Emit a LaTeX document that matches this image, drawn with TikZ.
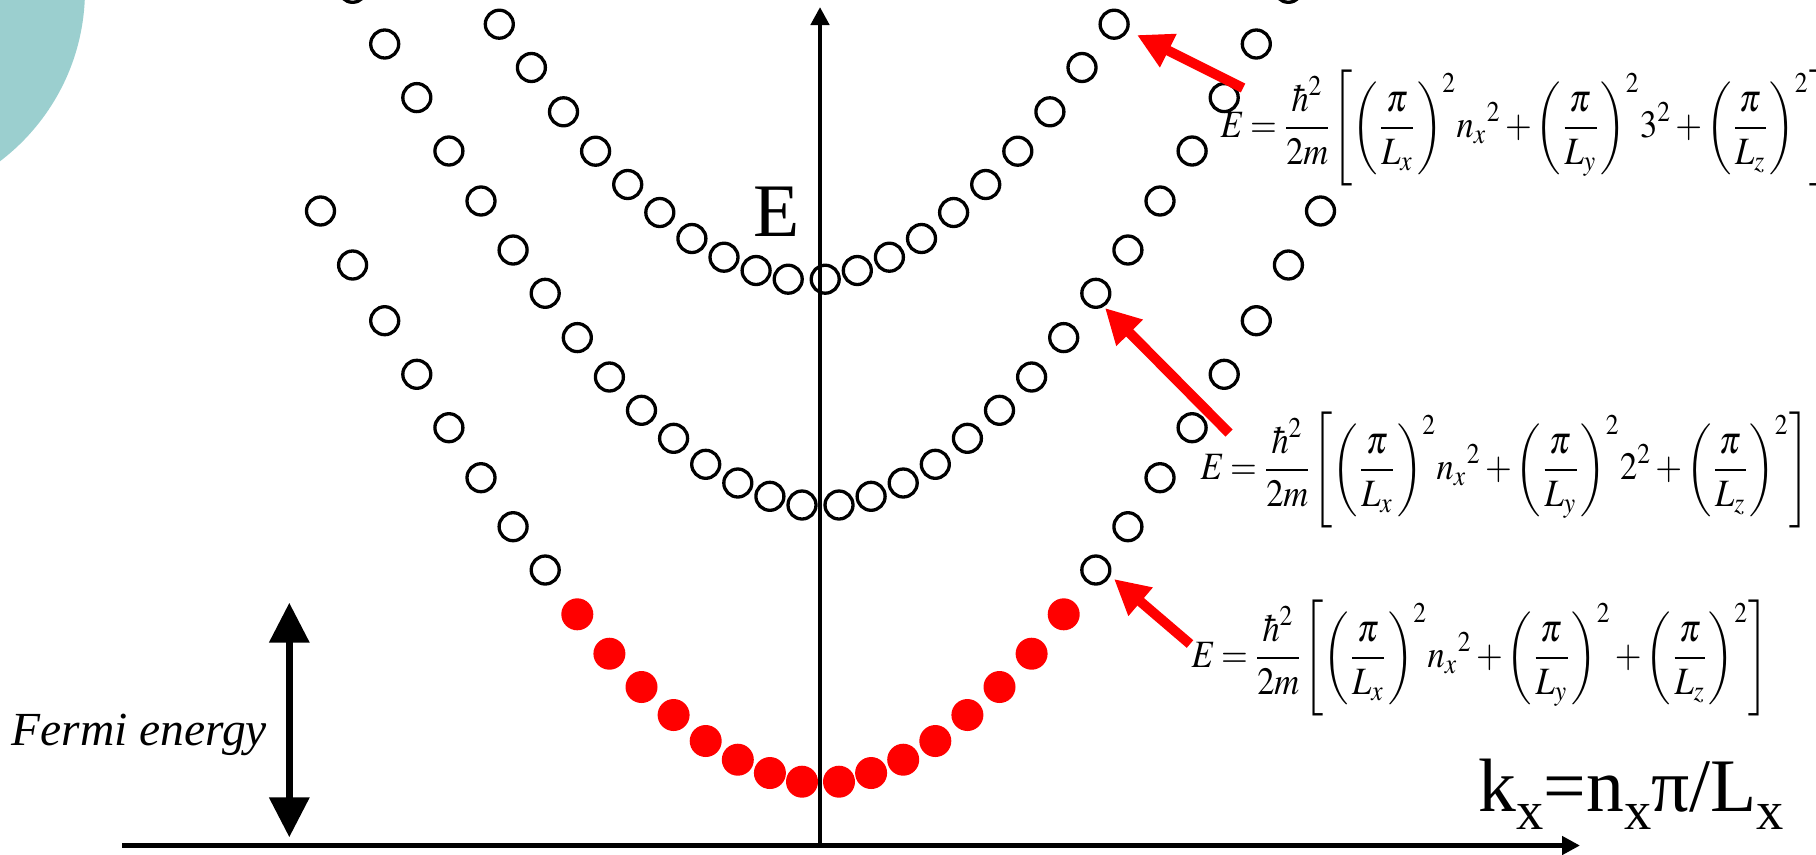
\documentclass[tikz,border=0pt]{standalone}
\usepackage{mathptmx}
\usepackage{fontspec}
\setmainfont{Liberation Serif}
\usepackage{graphicx}
\usepackage{tikz}
\usetikzlibrary{arrows.meta}
\definecolor{rosso}{HTML}{FF0000}
\definecolor{verdeacqua}{HTML}{9BCFCF}
\newcommand{\lowsub}[1]{\raisebox{-0.24em}{\fontsize{15.5}{16}\selectfont #1}}

\begin{document}
\begin{tikzpicture}[x=0.01cm, y=-0.01cm,
    vuoto/.style={draw=black, line width=0.033cm},
    freccia/.style={rosso, line width=0.1cm, -{Triangle[length=0.35cm,width=0.35cm]}},
    asse/.style={line width=0.048cm, -{Triangle[length=0.18cm,width=0.18cm]}},
    formula/.style={anchor=west, inner sep=0pt, font=\fontsize{11}{13}\selectfont}]
    \useasboundingbox (0,0) rectangle (1816,854);
    % Cerchio decorativo
    \fill[verdeacqua] (-130,-10) circle[radius=215];
    % Assi
    \coordinate (osx) at (122,845.5);
    \coordinate (odx) at (1580,845.5);
    \coordinate (ogiu) at (820,843);
    \coordinate (osu) at (820,7);
    \draw[asse] (osx) -- (odx);
    \draw[asse] (ogiu) -- (osu);
    \node[anchor=base, font=\fontsize{21.5}{24}\selectfont] (etichE) at (776.5,236.7) {E};
    \node[anchor=base west, inner sep=0pt, font=\fontsize{21.5}{24}\selectfont] (etichK) at (1478,811.7)
    {k\lowsub{x}=n\lowsub{x}π/L\lowsub{x}};
    % Livelli: k / y della parabola bassa
    \def\curva{0/781.7,1/773,2/759.7,3/741,4/715,5/687,6/653.7,7/614.3,
        8/570,9/526.7,10/477.7,11/427.7,12/374.3,13/320.7,14/265,15/211}
    \foreach \k/\y in \curva {
        \pgfmathsetmacro\dx{18.5+32.1*\k}
        % parabola bassa
        \ifnum\k<8
            \fill[rosso] (820.5-\dx,\y) circle[radius=16];
            \fill[rosso] (820.5+\dx,\y) circle[radius=16];
        \else
            \draw[vuoto] (820.5-\dx,\y) circle[radius=14];
            \draw[vuoto] (820.5+\dx,\y) circle[radius=14];
        \fi
        % parabola media
        \ifnum\k<15
            \draw[vuoto] (820.5-\dx,\y-276.7) circle[radius=14];
            \draw[vuoto] (820.5+\dx,\y-276.7) circle[radius=14];
        \fi
        % parabola alta
        \ifnum\k<10
            \draw[vuoto] (806.7-\dx,\y-502.5) circle[radius=14];
            \draw[vuoto] (806.7+\dx,\y-502.5) circle[radius=14];
        \fi
    }
    % Energia di Fermi
    \coordinate (fsu) at (289.3,602.7);
    \coordinate (fgiu) at (289.3,837.3);
    \draw[line width=0.07cm, {Triangle[length=0.4cm,width=0.39cm]}-{Triangle[length=0.4cm,width=0.39cm]}]
    (fsu) -- (fgiu);
    \node[anchor=base west, inner sep=0pt, font=\itshape\fontsize{13.5}{16}\selectfont] (fermi) at (11,745)
    {Fermi energy};
    % Formule
    \def\livello#1{\scalebox{0.89}[1]{\thinmuskip=0mu \medmuskip=2mu \thickmuskip=3mu
        $\displaystyle E=\frac{\hbar^2}{2m}\!\left[\left(\frac{\pi}{L_x}\right)^2 n_x{}^2
        +\left(\frac{\pi}{L_y}\right)^2 #1+\left(\frac{\pi}{L_z}\right)^2\right]$}}
    \node[formula] (eq3) at (1220,128) {\livello{3^2}};
    \node[formula] (eq2) at (1200,470) {\livello{2^2}};
    \node[formula] (eq1) at (1191,658) {\livello{}};
    % Frecce rosse
    \coordinate (c3) at (1243,88);
    \coordinate (p3) at (1137,35);
    \coordinate (c2) at (1229,433);
    \coordinate (p2) at (1105,308);
    \coordinate (c1) at (1190,644);
    \coordinate (p1) at (1114,579);
    \draw[freccia] (c3) -- (p3);
    \draw[freccia] (c2) -- (p2);
    \draw[freccia] (c1) -- (p1);
\end{tikzpicture}
\end{document}
